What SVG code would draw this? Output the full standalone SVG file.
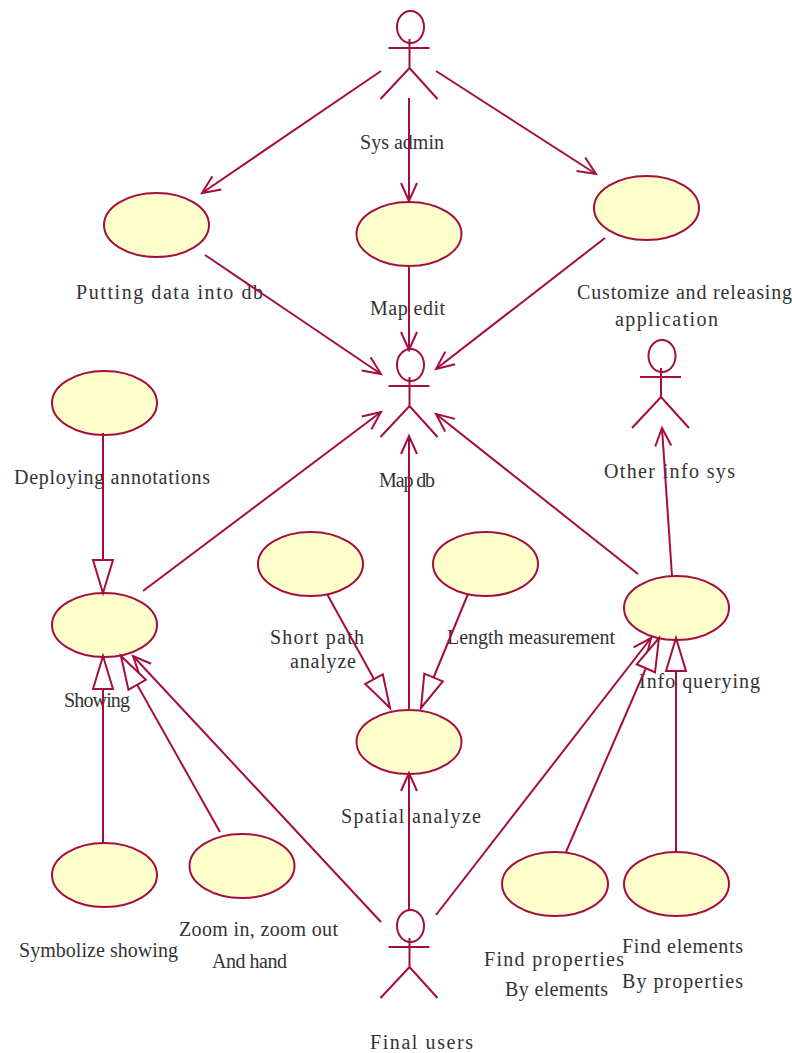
<svg xmlns="http://www.w3.org/2000/svg" width="792" height="1053" viewBox="0 0 792 1053">
<style>
.u{fill:#ffffcc;stroke:#a50d3f;stroke-width:2}
.a{fill:none;stroke:#a50d3f;stroke-width:2}
.t{font-family:"Liberation Serif",serif;font-size:20px;fill:#333}
.o{marker-end:url(#open)}
.h{marker-end:url(#hollow)}
</style>
<defs>
<marker id="open" markerUnits="userSpaceOnUse" markerWidth="24" markerHeight="24" refX="21" refY="12" orient="auto" overflow="visible"><path d="M3,4 L21,12 L3,20" fill="none" stroke="#a50d3f" stroke-width="2"/></marker>
<marker id="hollow" markerUnits="userSpaceOnUse" markerWidth="40" markerHeight="28" refX="36" refY="14" orient="auto" overflow="visible"><path d="M3,4 L36,14 L3,24 Z" fill="#fff" stroke="#a50d3f" stroke-width="2"/></marker>
<g id="stick"><ellipse cx="0" cy="0" rx="13.500" ry="16" class="a"/><path d="M-1,12 V41 M-22,21 H19 M-30,72 L-1,41 L27,72" class="a"/></g>
</defs>
<g id="sys-admin"><use href="#stick" x="410.500" y="27"/><text class="t" x="360" y="149" textLength="84">Sys admin</text></g>
<g id="map-db"><use href="#stick" x="410.500" y="365"/><text class="t" x="379" y="487" textLength="56">Map db</text></g>
<g id="other-info-sys"><use href="#stick" x="662" y="356"/><text class="t" x="604" y="478" textLength="131">Other info sys</text></g>
<g id="final-users"><use href="#stick" x="410.500" y="926"/><text class="t" x="370" y="1049" textLength="103">Final users</text></g>
<g id="putting-data"><ellipse class="u" cx="156.500" cy="225" rx="52.500" ry="32"/><text class="t" x="76" y="299" textLength="187">Putting data into db</text></g>
<g id="map-edit"><ellipse class="u" cx="409" cy="234" rx="52.500" ry="32"/><text class="t" x="370" y="315" textLength="75">Map edit</text></g>
<g id="customize"><ellipse class="u" cx="646.500" cy="208" rx="52.500" ry="32"/><text class="t" x="577" y="299" textLength="215">Customize and releasing</text><text class="t" x="615" y="326" textLength="103">application</text></g>
<g id="deploying"><ellipse class="u" cx="104.500" cy="403" rx="52.500" ry="32"/><text class="t" x="14" y="484" textLength="196">Deploying annotations</text></g>
<g id="showing"><ellipse class="u" cx="104.500" cy="625" rx="52.500" ry="32"/><text class="t" x="64" y="707" textLength="66">Showing</text></g>
<g id="short-path"><ellipse class="u" cx="310.500" cy="564" rx="52.500" ry="32"/><text class="t" x="270" y="644" textLength="94">Short path</text><text class="t" x="290" y="668" textLength="66">analyze</text></g>
<g id="length"><ellipse class="u" cx="485.500" cy="564" rx="52.500" ry="32"/><text class="t" x="447" y="644" textLength="168">Length measurement</text></g>
<g id="spatial"><ellipse class="u" cx="409" cy="742" rx="52.500" ry="32"/><text class="t" x="341" y="823" textLength="140">Spatial analyze</text></g>
<g id="info-querying"><ellipse class="u" cx="676.500" cy="608" rx="52.500" ry="32"/><text class="t" x="639" y="688" textLength="121">Info querying</text></g>
<g id="symbolize"><ellipse class="u" cx="104.500" cy="875" rx="52.500" ry="32"/><text class="t" x="19" y="957" textLength="159">Symbolize showing</text></g>
<g id="zoom"><ellipse class="u" cx="242" cy="866" rx="52.500" ry="32"/><text class="t" x="179" y="936" textLength="159">Zoom in, zoom out</text><text class="t" x="212" y="968" textLength="75">And hand</text></g>
<g id="find-properties"><ellipse class="u" cx="555" cy="884" rx="53" ry="32"/><text class="t" x="484" y="966" textLength="140">Find properties</text><text class="t" x="505" y="996" textLength="103">By elements</text></g>
<g id="find-elements"><ellipse class="u" cx="676.500" cy="884" rx="52.500" ry="32"/><text class="t" x="622" y="953" textLength="121">Find elements</text><text class="t" x="622" y="988" textLength="121">By properties</text></g>
<g id="connectors">
<path class="a o" d="M381,71 L202,193"/>
<path class="a o" d="M409,98 L409,201"/>
<path class="a o" d="M436,71 L596,174"/>
<path class="a o" d="M205,255 L381,374"/>
<path class="a o" d="M409,265 L409,350"/>
<path class="a o" d="M605,238 L436,369"/>
<path class="a o" d="M143,591 L381,412"/>
<path class="a o" d="M409,709 L409,436"/>
<path class="a o" d="M638,574 L436,414"/>
<path class="a o" d="M672,576 L662,428"/>
<path class="a o" d="M381,922 L133,656"/>
<path class="a o" d="M409,911 L409,773"/>
<path class="a o" d="M436,915 L651,638"/>
<path class="a h" d="M103,433 L103,593"/>
<path class="a h" d="M103,843 L103,656"/>
<path class="a h" d="M220,832 L121,656"/>
<path class="a h" d="M327,594 L390,708"/>
<path class="a h" d="M468,594 L421,708"/>
<path class="a h" d="M566,852 L659,638"/>
<path class="a h" d="M676,853 L676,638"/>
</g>
</svg>
